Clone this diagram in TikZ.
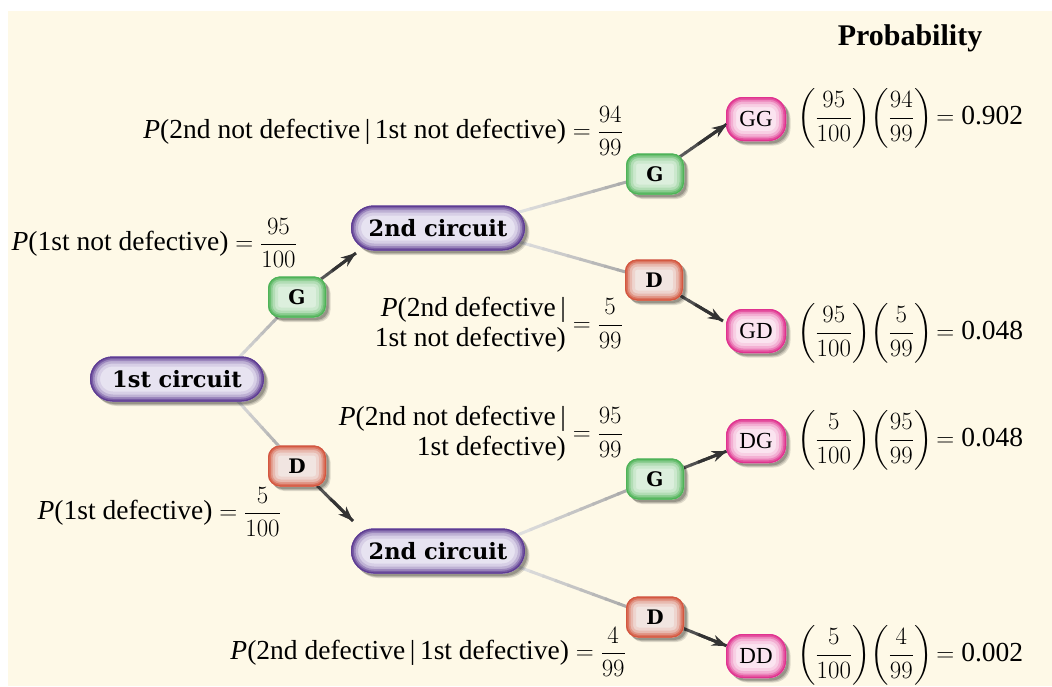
\documentclass[tikz,border=0pt]{standalone}
\usepackage{amsmath}
\usepackage{fontspec}
\setmainfont{Liberation Serif}
\newfontfamily\boxserif{DejaVu Serif}
\usetikzlibrary{calc,shadows,arrows.meta}

\definecolor{cream}{HTML}{FEF9E7}
\definecolor{purpleedge}{HTML}{5E3C92}
\definecolor{purplefill}{HTML}{E7E3F1}
\definecolor{greenedge}{HTML}{4FB357}
\definecolor{greenfill}{HTML}{DCEFDD}
\definecolor{rededge}{HTML}{D4573F}
\definecolor{redfill}{HTML}{F1E5E1}
\definecolor{pinkedge}{HTML}{E0338F}
\definecolor{pinkfill}{HTML}{FBE4F0}

\pgfdeclarelayer{bg}
\pgfsetlayers{bg,main}

\tikzset{
  % rounded box whose coloured rim fades into a pale interior
  glowbox/.style n args={3}{
    rectangle, rounded corners=#3, fill=#2, inner sep=0pt,
    drop shadow={shadow xshift=4.5pt, shadow yshift=-4.5pt, opacity=.12, fill=black},
    drop shadow={shadow xshift=3.5pt, shadow yshift=-3.5pt, opacity=.15, fill=black},
    drop shadow={shadow xshift=2.5pt, shadow yshift=-2.5pt, opacity=.2, fill=black},
    path picture={
      \foreach \w/\m in {20/12,14/30,9/55,5.5/80,2.5/100}{
        \draw[line width=\w pt, draw=#1!\m!#2, rounded corners=#3]
          (path picture bounding box.south west) rectangle (path picture bounding box.north east);
      }
    }
  },
  circ/.style={glowbox={purpleedge}{purplefill}{22.5pt}, minimum width=174pt,
    minimum height=45pt, font=\boxserif\bfseries\fontsize{22.5}{24}\selectfont},
  gnode/.style={glowbox={greenedge}{greenfill}{12pt}, minimum width=58pt,
    minimum height=41pt, font=\boxserif\bfseries\fontsize{20}{22}\selectfont},
  dnode/.style={glowbox={rededge}{redfill}{12pt}, minimum width=58pt,
    minimum height=41pt, font=\boxserif\bfseries\fontsize{20}{22}\selectfont},
  outc/.style={glowbox={pinkedge}{pinkfill}{17pt}, minimum width=60pt,
    minimum height=44pt, font=\fontsize{23}{25}\selectfont},
  lbl/.style={inner sep=0pt, font=\fontsize{27.5}{30}\selectfont},
  edgeline/.style={line width=3pt},
  tip/.style={edgeline, black!80, -{Stealth[length=15pt,width=11pt]}}
}

% straight connector whose grey deepens from one end to the other
\newcommand\fadeseg[4]{%
  \foreach \k in {0,...,11}{
    \pgfmathsetmacro\fa{\k/12}
    \pgfmathsetmacro\fb{min((\k+1.15)/12,1)}
    \pgfmathsetmacro\shd{#3+(#4-#3)*\k/11}
    \draw[edgeline, black!\shd] ($(#1)!\fa!(#2)$) -- ($(#1)!\fb!(#2)$);
  }%
}

\begin{document}
\begin{tikzpicture}[x=1pt, y=-1pt]
\useasboundingbox (0,0) rectangle (1052,686);
\begin{pgfonlayer}{bg}
  \fill[cream] (8,11) rectangle (1052,686);
\end{pgfonlayer}

% tree nodes
\node[circ] (c1) at (177,379) {1st circuit};
\node[circ] (c2a) at (438,228) {2nd circuit};
\node[circ] (c2b) at (438,551) {2nd circuit};

\node[gnode] (g1) at (297,297) {G};
\node[dnode] (d1) at (297,466) {D};
\node[gnode] (ga) at (655,174) {G};
\node[dnode] (da) at (654,280) {D};
\node[gnode] (gb) at (655,479) {G};
\node[dnode] (db) at (655,617) {D};

\node[outc] (gg) at (756,119) {GG};
\node[outc] (gd) at (756,331) {GD};
\node[outc] (dg) at (756,441) {DG};
\node[outc] (dd) at (756,656) {DD};

% where connectors leave a box and where their arrows end
\coordinate (s1) at (226,371);
\coordinate (s2) at (226,388);
\coordinate (s3) at (505,216);
\coordinate (s4) at (505,238);
\coordinate (s5) at (505,540);
\coordinate (s6) at (505,562);
\coordinate (t1) at (356,253);
\coordinate (t2) at (353,521);
\coordinate (t3) at (727,124);
\coordinate (t4) at (723,321);
\coordinate (t5) at (727,451);
\coordinate (t6) at (727,646);

\begin{pgfonlayer}{bg}
  \fadeseg{s1}{g1}{10}{38}
  \fadeseg{s2}{d1}{10}{38}
  \fadeseg{s3}{ga}{10}{38}
  \fadeseg{s4}{da}{10}{38}
  \fadeseg{s5}{gb}{10}{38}
  \fadeseg{s6}{db}{10}{38}
  \fadeseg{g1}{t1}{55}{80}
  \fadeseg{d1}{t2}{55}{80}
  \fadeseg{ga}{t3}{55}{80}
  \fadeseg{da}{t4}{55}{80}
  \fadeseg{gb}{t5}{55}{80}
  \fadeseg{db}{t6}{55}{80}
\end{pgfonlayer}
\draw[tip] ($(g1)!0.6!(t1)$) -- (t1);
\draw[tip] ($(d1)!0.6!(t2)$) -- (t2);
\draw[tip] ($(ga)!0.6!(t3)$) -- (t3);
\draw[tip] ($(da)!0.6!(t4)$) -- (t4);
\draw[tip] ($(gb)!0.6!(t5)$) -- (t5);
\draw[tip] ($(db)!0.6!(t6)$) -- (t6);

% branch probabilities
\node[lbl, anchor=east] (la) at (623,131)
  {\textit{P}(2nd not defective\,|\,1st not defective) $= \dfrac{94}{99}$};
\node[lbl, anchor=east] (lb) at (297,243)
  {\textit{P}(1st not defective) $= \dfrac{95}{100}$};
\node[lbl, anchor=east] (lc) at (623,325)
  {$\begin{array}{@{}r@{}}\text{\textit{P}(2nd defective\,|}\\ \text{1st not defective)}\end{array} = \dfrac{5}{99}$};
\node[lbl, anchor=east] (ld) at (623,434)
  {$\begin{array}{@{}r@{}}\text{\textit{P}(2nd not defective\,|}\\ \text{1st defective)}\end{array} = \dfrac{95}{99}$};
\node[lbl, anchor=east] (le) at (281,512)
  {\textit{P}(1st defective) $= \dfrac{5}{100}$};
\node[lbl, anchor=east] (lf) at (626,652)
  {\textit{P}(2nd defective\,|\,1st defective) $= \dfrac{4}{99}$};

% outcome probabilities
\node[font=\bfseries\fontsize{30}{32}\selectfont] (hdr) at (910,38) {Probability};
\node[lbl, anchor=west] (pgg) at (797,118)
  {$\left(\dfrac{95}{100}\right)\!\left(\dfrac{94}{99}\right) \mkern-2mu= \text{0.902}$};
\node[lbl, anchor=west] (pgd) at (797,333)
  {$\left(\dfrac{95}{100}\right)\!\left(\dfrac{5}{99}\right) \mkern-2mu= \text{0.048}$};
\node[lbl, anchor=west] (pdg) at (797,440)
  {$\left(\dfrac{5}{100}\right)\!\left(\dfrac{95}{99}\right) \mkern-2mu= \text{0.048}$};
\node[lbl, anchor=west] (pdd) at (797,655)
  {$\left(\dfrac{5}{100}\right)\!\left(\dfrac{4}{99}\right) \mkern-2mu= \text{0.002}$};
\end{tikzpicture}
\end{document}
